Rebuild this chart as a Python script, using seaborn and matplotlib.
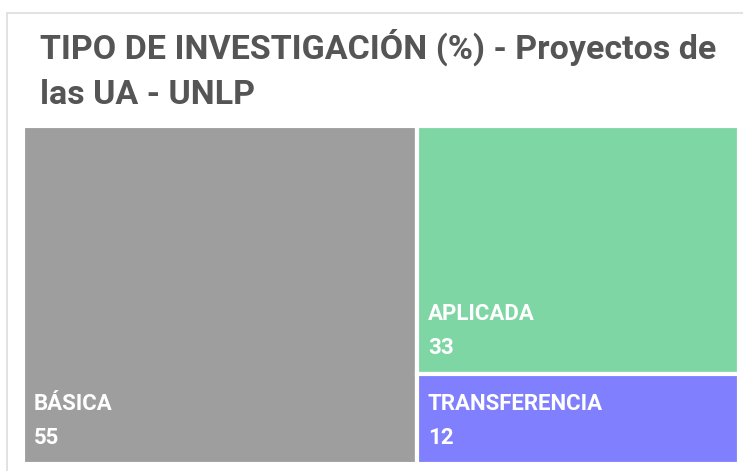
import matplotlib
matplotlib.use("Agg")
import matplotlib.pyplot as plt
import seaborn as sns
from matplotlib.patches import Rectangle

# data
categories = ["BÁSICA", "APLICADA", "TRANSFERENCIA"]
values = [55, 33, 12]
colors = ["#9e9e9e", "#7fd6a5", "#8080ff"]
title = "TIPO DE INVESTIGACIÓN (%) - Proyectos de\nlas UA - UNLP"

sns.set_theme(style="white")
plt.rcParams["font.family"] = ["Roboto", "DejaVu Sans"]


# simple slice layout: first item full height, the rest stacked on the right
def layout(vals):
    total = float(sum(vals))
    w0 = vals[0] / total * 100
    rects = [(0, 0, w0, 100)]
    rest = sum(vals[1:])
    top = 100
    for v in vals[1:]:
        h = v / rest * 100
        rects.append((w0, top - h, 100 - w0, h))
        top -= h
    return rects


fig = plt.figure(figsize=(7.43, 4.71), dpi=100)
W, H = 743, 471

# card border
fig.patches.append(Rectangle((7 / W, -0.1), 1.1, (H - 13) / H + 0.1,
                             transform=fig.transFigure, fill=False,
                             edgecolor="#dddddd", linewidth=1.2))

fig.text(40 / W, 1 - 29 / H, title, ha="left", va="top", fontsize=24.5,
         fontweight="bold", color="#555555", linespacing=1.5)

ax = fig.add_axes([23 / W, 7 / H, 716 / W, 338 / H])
for (x, y, w, h), lab, val, c in zip(layout(values), categories, values, colors):
    ax.add_patch(Rectangle((x, y), w, h, facecolor=c, edgecolor="white", linewidth=3))
    ax.annotate(f"{lab}\n{val}", (x, y), xytext=(8, 11), textcoords="offset points",
                ha="left", va="bottom", color="white", fontsize=16,
                fontweight="bold", linespacing=1.7)

ax.set_xlim(0, 100)
ax.set_ylim(0, 100)
ax.axis("off")

plt.savefig("out.png", dpi=100)
plt.close()
